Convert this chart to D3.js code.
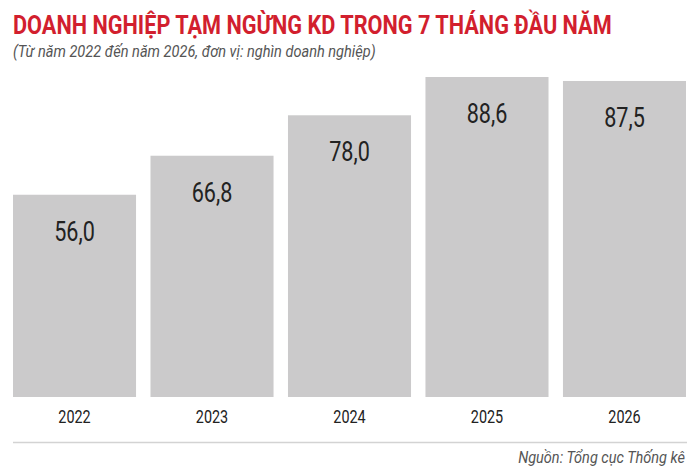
<!DOCTYPE html>
<html lang="vi">
<head>
    <meta charset="UTF-8">
    <title>Doanh nghiệp tạm ngừng KD</title>
    <style>
        html, body { margin: 0; padding: 0; background: #fff; }
        svg { display: block; font-family: Roboto, "Noto Sans", sans-serif; }
    </style>
</head>
<body>
    <script src="https://d3js.org/d3.v7.min.js"></script>
    <script>
        // data
        const years = ['2022', '2023', '2024', '2025', '2026'];
        const values = [56.0, 66.8, 78.0, 88.6, 87.5];

        const title = 'DOANH NGHIỆP TẠM NGỪNG KD TRONG 7 THÁNG ĐẦU NĂM';
        const subtitle = '(Từ năm 2022 đến năm 2026, đơn vị: nghìn doanh nghiệp)';
        const source = 'Nguồn: Tổng cục Thống kê';

        const W = 700, H = 471;
        const baseY = 397;

        const svg = d3.select('body').append('svg')
            .attr('width', W)
            .attr('height', H);

        const x = d3.scaleBand()
            .domain(years)
            .range([13, 686])
            .paddingInner(0.105)
            .paddingOuter(0);

        const y = d3.scaleLinear()
            .domain([0, d3.max(values)])
            .range([baseY, 77]);

        const fmt = v => d3.format('.1f')(v).replace('.', ',');

        // squeeze a text horizontally to a given width (condensed look)
        function squeeze(sel, px, py, width, anchor) {
            const w = sel.node().getComputedTextLength();
            const k = width / w;
            sel.attr('text-anchor', anchor || 'start')
                .attr('transform', `translate(${px},${py}) scale(${k},1)`);
        }

        // title + subtitle
        svg.append('text')
            .style('font-size', '26px')
            .style('font-weight', 700)
            .style('fill', '#d21f2e')
            .text(title)
            .call(squeeze, 13, 33.5, 599);

        svg.append('text')
            .style('font-size', '16px')
            .style('font-style', 'italic')
            .style('fill', '#555')
            .text(subtitle)
            .call(squeeze, 13, 57, 363);

        // bars
        const rows = years.map((yr, i) => ({ year: yr, value: values[i] }));

        svg.selectAll('rect.bar')
            .data(rows)
            .enter()
            .append('rect')
            .attr('class', 'bar')
            .attr('x', d => x(d.year))
            .attr('y', d => y(d.value))
            .attr('width', x.bandwidth())
            .attr('height', d => baseY - y(d.value))
            .style('fill', '#cbcacb');

        // value labels inside bars
        svg.selectAll('text.val')
            .data(rows)
            .enter()
            .append('text')
            .attr('class', 'val')
            .attr('transform', d => `translate(${x(d.year) + x.bandwidth() / 2},${y(d.value) + 46}) scale(0.8,1)`)
            .attr('text-anchor', 'middle')
            .style('font-size', '27px')
            .style('fill', '#222')
            .text(d => fmt(d.value));

        // year labels
        svg.selectAll('text.year')
            .data(rows)
            .enter()
            .append('text')
            .attr('class', 'year')
            .attr('transform', d => `translate(${x(d.year) + x.bandwidth() / 2},423) scale(0.8,1)`)
            .attr('text-anchor', 'middle')
            .style('font-size', '18px')
            .style('fill', '#222')
            .text(d => d.year);

        // separator + source
        svg.append('line')
            .attr('x1', 13).attr('x2', 687)
            .attr('y1', 442.5).attr('y2', 442.5)
            .style('stroke', '#d3d3d3')
            .style('stroke-width', 1.5);

        svg.append('text')
            .style('font-size', '17px')
            .style('font-style', 'italic')
            .style('fill', '#555')
            .text(source)
            .call(squeeze, 685, 463, 167, 'end');
    </script>
</body>
</html>
